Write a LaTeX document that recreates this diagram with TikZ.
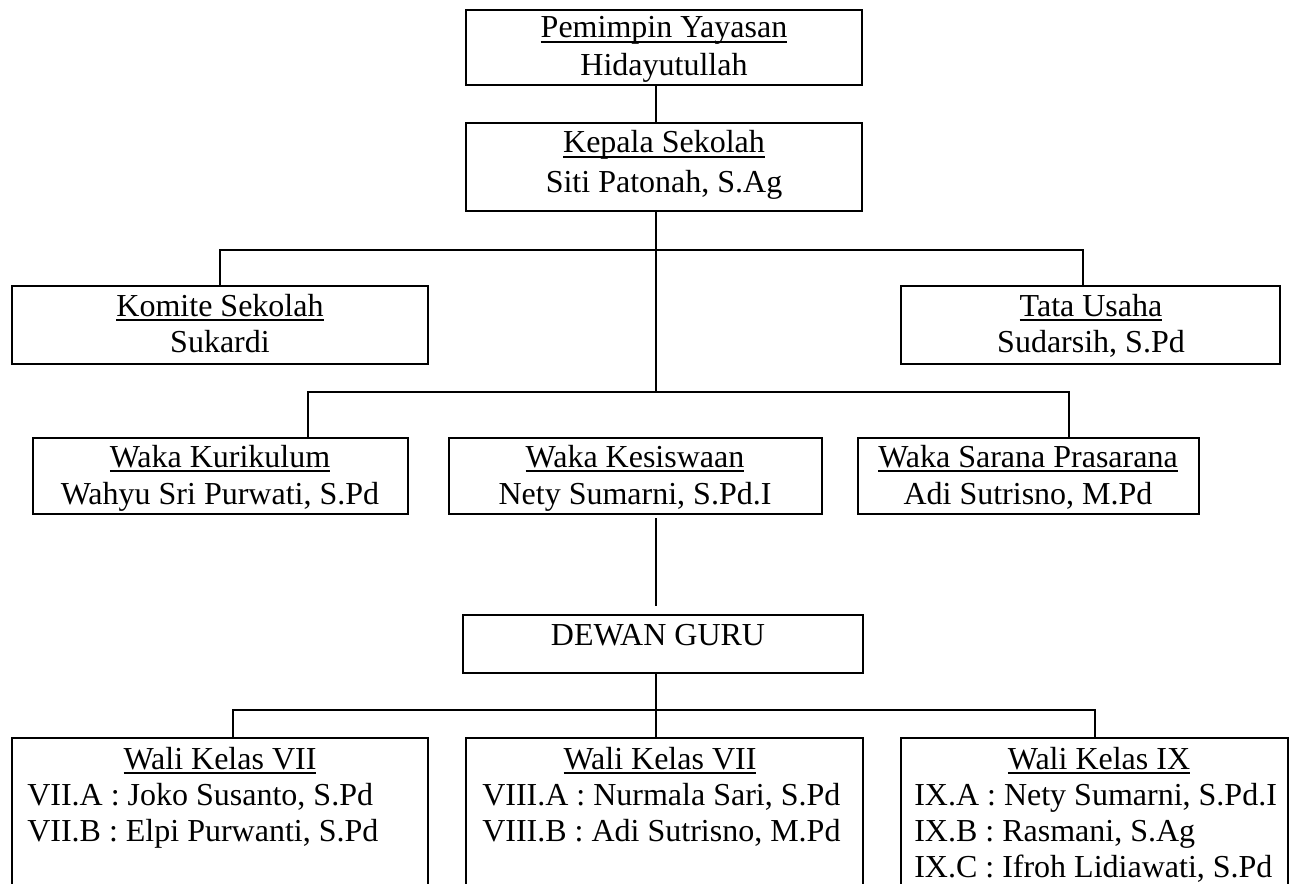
\documentclass[tikz,border=0pt]{standalone}
\usepackage{fontspec}
\setmainfont{Liberation Serif}
\usetikzlibrary{fit}
\newcommand\myul[1]{\setbox0=\hbox{#1}\rlap{\rule[-3.4pt]{\wd0}{1.1pt}}\box0}
\begin{document}
\begin{tikzpicture}[x=0.75pt,y=-0.75pt,
  box/.style={draw,line width=1.5pt,inner sep=0pt},
  conn/.style={line width=0.9pt},
  txt/.style={inner sep=0pt,anchor=base,font=\fontsize{24pt}{29pt}\selectfont},
  ltxt/.style={txt,anchor=base west}]
\useasboundingbox (0,0) rectangle (1303,884);
\clip (0,0) rectangle (1303,884);
% boxes
\node[box,fit={(466,10)(862,85)}] (b1) {};
\node[box,fit={(466,123)(862,211)}] (b2) {};
\node[box,fit={(12,286)(428,364)}] (kom) {};
\node[box,fit={(901,286)(1280,364)}] (tu) {};
\node[box,fit={(33,438)(408,514)}] (wk) {};
\node[box,fit={(449,438)(822,514)}] (ws) {};
\node[box,fit={(858,438)(1199,514)}] (wp) {};
\node[box,fit={(463,615)(863,673)}] (dg) {};
\node[box,fit={(12,738)(428,930)}] (w7) {};
\node[box,fit={(466,738)(863,930)}] (w8) {};
\node[box,fit={(901,738)(1288,930)}] (w9) {};
% helper coordinates
\coordinate (sp) at (656,0);
\coordinate (ctu) at (1083,0);
\coordinate (cwk) at (308,0);
\coordinate (cwp) at (1069,0);
\coordinate (c7) at (233,0);
\coordinate (c9) at (1095,0);
\coordinate (h1) at (0,250);
\coordinate (h2) at (0,392);
\coordinate (h3) at (0,710);
% connectors
\draw[conn] (b1.south -| sp) -- (b2.north -| sp);
\draw[conn] (b2.south -| sp) -- (h2 -| sp);
\draw[conn] (kom.north) |- (h1 -| ctu) -- (tu.north -| ctu);
\draw[conn] (wk.north -| cwk) |- (h2 -| cwp) -- (wp.north -| cwp);
\draw[conn,shorten <=2.25pt,shorten >=6pt] (ws.south -| sp) -- (dg.north -| sp);
\draw[conn] (dg.south -| sp) -- (w8.north -| sp);
\draw[conn] (w7.north -| c7) |- (h3 -| c9) -- (w9.north -| c9);
% texts
\node[txt] (t1) at (664,38) {\myul{Pemimpin Yayasan}};
\node[txt] (n1) at (664,76) {Hidayutullah};
\node[txt] (t2) at (664,153) {\myul{Kepala Sekolah}};
\node[txt] (n2) at (664,193) {Siti Patonah, S.Ag};
\node[txt] (tkom) at (220,316) {\myul{Komite Sekolah}};
\node[txt] (nkom) at (220,353) {Sukardi};
\node[txt] (ttu) at (1091,316) {\myul{Tata Usaha}};
\node[txt] (ntu) at (1091,353) {Sudarsih, S.Pd};
\node[txt] (twk) at (220,467) {\myul{Waka Kurikulum}};
\node[txt] (nwk) at (220,504) {Wahyu Sri Purwati, S.Pd};
\node[txt] (tws) at (635,467) {\myul{Waka Kesiswaan}};
\node[txt] (nws) at (635,504) {Nety Sumarni, S.Pd.I};
\node[txt] (twp) at (1028,467) {\myul{Waka Sarana Prasarana}};
\node[txt] (nwp) at (1028,504) {Adi Sutrisno, M.Pd};
\node[txt] (tdg) at (658,645) {DEWAN GURU};
\node[txt] (t7) at (220,769) {\myul{Wali Kelas VII}};
\node[ltxt] (l7a) at (27,805) {VII.A : Joko Susanto, S.Pd};
\node[ltxt] (l7b) at (27,841) {VII.B : Elpi Purwanti, S.Pd};
\node[txt] (t8) at (660,769) {\myul{Wali Kelas VII}};
\node[ltxt] (l8a) at (482,805) {VIII.A : Nurmala Sari, S.Pd};
\node[ltxt] (l8b) at (482,841) {VIII.B : Adi Sutrisno, M.Pd};
\node[txt] (t9) at (1099,769) {\myul{Wali Kelas IX}};
\node[ltxt] (l9a) at (914,805) {IX.A : Nety Sumarni, S.Pd.I};
\node[ltxt] (l9b) at (914,841) {IX.B : Rasmani, S.Ag};
\node[ltxt] (l9c) at (914,877) {IX.C : Ifroh Lidiawati, S.Pd};
\end{tikzpicture}
\end{document}
